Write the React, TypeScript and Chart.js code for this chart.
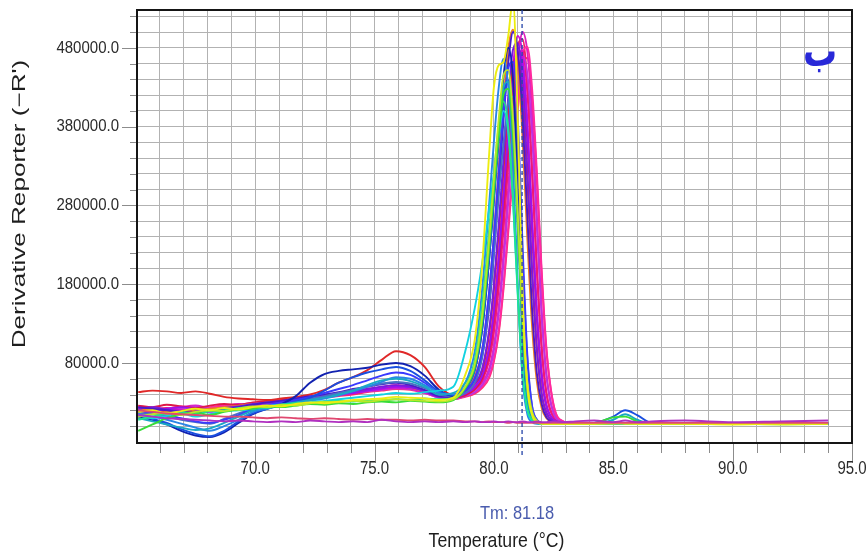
import { useEffect, useRef } from "react";
import { Chart, registerables } from "chart.js";

Chart.register(...registerables);

// Temperature (°C) sample points shared by all melt curves
const temps = [
  65.1, 65.7, 66.3, 66.9, 67.5, 68.1, 68.7, 69.3, 69.9, 70.5, 71.1, 71.7, 72.3, 72.9, 73.5, 74.1, 74.7, 75.3, 75.9, 76.5, 77.1, 77.7, 78.3,
  78.8, 79.2, 79.5, 79.8, 80.0, 80.2, 80.4, 80.6, 80.8, 81.0, 81.2, 81.4, 81.6, 81.8, 82.0, 82.2, 82.5, 82.9,
  83.4, 84.2, 85.0, 85.5, 86.0, 86.6, 88.0, 90.0, 92.0, 94.0,
];

// Derivative reporter values, in thousands
const ntc1 = [
  14, 12, 10, 9, 8, 7, 6, 7, 6, 5, 6, 5, 7, 6, 5, 6, 5, 8, 6, 5, 6, 5, 6,
  5, 6, 5, 5, 6, 5, 5, 6, 5, 5, 6, 5, 5, 6, 5, 5, 6, 5,
  6, 7, 5, 7, 5, 6, 7, 5, 6, 7,
];
const ntc2 = [
  20, 18, 16, 15, 14, 13, 12, 12, 11, 10, 11, 10, 9, 10, 9, 8, 9, 8, 8, 7, 8, 7, 7,
  6, 6, 5, 6, 5, 5, 5, 4, 5, 4, 4, 4, 4, 4, 4, 4, 4, 4,
  4, 4, 4, 4, 4, 4, 4, 4, 4, 4,
];
const s01 = [
  18, 20, 16, 19, 22, 20, 23, 21, 24, 26, 25, 28, 30, 29, 31, 33, 34, 35, 37, 36, 35, 33, 36,
  65, 110, 200, 345, 430, 458, 462, 495, 540, 390, 170, 50, 14, 5, 3, 3, 3, 3,
  3, 3, 4, 3, 3, 3, 3, 2, 3, 3,
];
const s02 = [
  12, 15, 17, 14, 18, 20, 19, 22, 25, 24, 27, 26, 29, 31, 30, 32, 31, 33, 34, 33, 32, 31, 34,
  50, 79, 138, 237, 314, 389, 445, 452, 390, 270, 140, 55, 18, 7, 4, 3, 3, 3,
  3, 3, 3, 4, 3, 3, 3, 3, 2, 3,
];
const s03 = [
  -6, 2, 10, 15, 17, 14, 18, 21, 22, 25, 24, 26, 28, 27, 29, 28, 30, 31, 30, 32, 31, 30, 33,
  48, 75, 130, 224, 297, 368, 421, 428, 370, 255, 130, 50, 16, 6, 4, 3, 3, 3,
  3, 4, 11, 12, 6, 3, 3, 3, 3, 3,
];
const s04 = [
  8, 12, 16, 18, 15, 19, 20, 23, 24, 23, 27, 29, 28, 30, 32, 31, 33, 32, 34, 33, 35, 34, 36,
  49, 84, 151, 249, 319, 380, 412, 380, 290, 170, 70, 22, 8, 4, 3, 3, 3, 3,
  3, 3, 3, 3, 3, 3, 3, 3, 3, 3,
];
const s05 = [
  14, 10, 13, 16, 12, 15, 19, 20, 22, 25, 27, 26, 30, 32, 34, 36, 38, 40, 42, 41, 43, 45, 50,
  95, 150, 205, 275, 320, 368, 400, 372, 285, 165, 65, 20, 7, 4, 3, 3, 3, 3,
  3, 3, 5, 4, 3, 3, 3, 3, 3, 3,
];
const s06 = [
  10, 6, 2, -2, -5, -3, 4, 12, 20, 24, 27, 30, 33, 36, 40, 45, 52, 58, 60, 57, 50, 40, 42,
  55, 80, 133, 230, 304, 376, 430, 437, 370, 250, 115, 38, 12, 5, 3, 3, 3, 3,
  3, 3, 8, 15, 8, 3, 3, 3, 3, 3,
];
const s07 = [
  16, 12, 8, 3, -2, -6, 0, 8, 18, 22, 26, 29, 32, 35, 39, 44, 50, 56, 62, 60, 52, 42, 40,
  55, 95, 171, 281, 361, 429, 466, 430, 330, 180, 60, 15, 5, 3, 3, 3, 3, 3,
  3, 3, 3, 3, 3, 3, 3, 3, 3, 3,
];
const s08 = [
  14, 9, 4, -4, -10, -13, -6, 6, 16, 22, 27, 31, 36, 45, 55, 62, 68, 72, 75, 70, 58, 44, 40,
  47, 71, 122, 212, 285, 359, 419, 439, 390, 280, 120, 35, 10, 4, 3, 3, 3, 3,
  3, 4, 12, 20, 14, 4, 3, 3, 3, 3,
];
const s09 = [
  12, 8, 2, -6, -12, -14, -8, 4, 15, 22, 28, 38, 55, 66, 70, 72, 74, 78, 80, 76, 64, 46, 38,
  49, 71, 120, 211, 290, 372, 443, 480, 440, 300, 110, 30, 8, 4, 3, 3, 3, 3,
  3, 3, 3, 3, 3, 3, 3, 3, 3, 3,
];
const s10 = [
  20, 17, 14, 10, 6, 4, 8, 14, 22, 27, 30, 33, 37, 42, 47, 52, 58, 64, 68, 65, 55, 42, 39,
  45, 61, 95, 171, 242, 321, 397, 454, 462, 390, 230, 90, 25, 8, 4, 3, 3, 3,
  3, 3, 3, 3, 3, 3, 3, 3, 3, 3,
];
const s11 = [
  18, 15, 12, 8, 5, 3, 9, 16, 21, 25, 28, 32, 35, 38, 42, 46, 50, 54, 56, 54, 48, 40, 38,
  42, 55, 86, 155, 219, 291, 359, 411, 418, 350, 210, 85, 25, 8, 4, 3, 3, 3,
  3, 3, 3, 3, 3, 3, 3, 3, 3, 3,
];
const s12 = [
  24, 22, 20, 18, 17, 19, 21, 24, 27, 30, 32, 35, 38, 40, 43, 47, 50, 53, 55, 52, 46, 38, 37,
  46, 59, 87, 151, 219, 302, 388, 461, 500, 475, 393, 267, 148, 67, 28, 11, 5, 3,
  3, 3, 3, 3, 3, 3, 3, 3, 3, 3,
];
const s13 = [
  22, 24, 21, 19, 22, 20, 23, 25, 28, 30, 31, 34, 36, 39, 41, 44, 47, 50, 52, 50, 44, 37, 36,
  43, 54, 72, 122, 180, 255, 338, 418, 478, 486, 432, 325, 200, 100, 42, 17, 6, 3,
  3, 3, 3, 3, 3, 3, 3, 3, 3, 3,
];
const s14 = [
  20, 18, 22, 24, 21, 18, 20, 23, 26, 29, 32, 33, 35, 37, 40, 42, 45, 48, 50, 49, 45, 38, 37,
  41, 49, 63, 98, 145, 211, 290, 372, 443, 480, 457, 377, 257, 142, 65, 26, 8, 4,
  3, 3, 3, 3, 3, 3, 3, 3, 3, 3,
];
const s15 = [
  20, 22, 19, 17, 20, 22, 24, 26, 28, 30, 31, 33, 35, 38, 40, 43, 46, 49, 51, 49, 44, 38, 37,
  47, 63, 95, 169, 242, 327, 411, 479, 503, 462, 366, 238, 126, 56, 23, 10, 4, 3,
  3, 3, 3, 3, 3, 3, 3, 3, 3, 3,
];
const s16 = [
  43, 45, 44, 42, 44, 41, 37, 35, 34, 33, 35, 37, 40, 46, 55, 62, 71, 84, 95, 90, 75, 50, 40,
  45, 54, 69, 117, 173, 245, 324, 401, 459, 467, 415, 312, 192, 96, 40, 16, 6, 3,
  3, 3, 3, 3, 3, 3, 3, 3, 3, 3,
];
const s17 = [
  26, 24, 27, 25, 23, 26, 28, 27, 30, 32, 33, 35, 37, 39, 42, 44, 47, 49, 51, 50, 45, 38, 36,
  39, 47, 60, 94, 139, 202, 278, 357, 425, 461, 438, 362, 246, 136, 62, 25, 8, 4,
  3, 3, 3, 3, 3, 3, 3, 3, 3, 3,
];
const s18 = [
  16, 19, 22, 20, 18, 21, 24, 23, 26, 29, 31, 32, 34, 37, 40, 42, 45, 47, 49, 48, 43, 37, 35,
  42, 51, 65, 101, 149, 217, 299, 384, 457, 495, 471, 389, 265, 146, 67, 27, 8, 4,
  3, 3, 3, 3, 3, 3, 3, 3, 3, 3,
];
const s19 = [
  21, 23, 20, 22, 25, 22, 24, 27, 29, 28, 31, 33, 35, 37, 39, 42, 44, 46, 48, 47, 42, 36, 34,
  38, 43, 52, 69, 96, 142, 206, 284, 365, 434, 470, 447, 370, 252, 139, 63, 16, 5,
  3, 3, 3, 3, 3, 3, 3, 3, 3, 3,
];
const s20 = [
  19, 21, 18, 20, 23, 21, 22, 25, 27, 30, 29, 32, 34, 37, 39, 41, 44, 47, 50, 49, 44, 37, 35,
  40, 46, 57, 83, 120, 176, 250, 331, 410, 468, 476, 423, 319, 196, 98, 41, 11, 4,
  3, 3, 3, 3, 3, 3, 3, 3, 3, 3,
];
const s21 = [
  23, 20, 22, 25, 22, 24, 26, 25, 28, 31, 30, 33, 36, 38, 40, 43, 45, 48, 50, 49, 44, 37, 35,
  39, 43, 50, 63, 84, 121, 178, 252, 335, 414, 473, 481, 428, 322, 198, 99, 27, 6,
  3, 3, 3, 3, 3, 3, 3, 3, 3, 3,
];
const s22 = [
  17, 20, 23, 21, 19, 22, 24, 26, 25, 28, 30, 33, 35, 38, 40, 43, 46, 49, 52, 50, 45, 38, 36,
  41, 47, 59, 86, 123, 182, 258, 341, 422, 483, 491, 436, 328, 202, 101, 42, 11, 4,
  3, 3, 3, 3, 3, 3, 3, 3, 3, 3,
];
const s23 = [
  25, 23, 21, 24, 26, 23, 25, 28, 27, 30, 32, 34, 36, 38, 41, 43, 46, 48, 51, 49, 45, 38, 35,
  41, 46, 55, 73, 102, 151, 219, 302, 388, 461, 500, 475, 393, 267, 148, 67, 17, 5,
  3, 3, 3, 3, 3, 3, 3, 3, 3, 3,
];
const s24 = [
  15, 18, 20, 17, 20, 23, 21, 24, 26, 29, 31, 30, 33, 36, 38, 40, 43, 45, 47, 46, 42, 36, 34,
  37, 41, 48, 61, 82, 117, 173, 245, 324, 401, 459, 467, 415, 312, 192, 96, 26, 6,
  3, 3, 3, 3, 3, 3, 3, 3, 3, 3,
];

const seriesValues = [ntc1, ntc2, s01, s02, s03, s04, s05, s06, s07, s08, s09, s10, s11, s12, s13, s14, s15, s16, s17, s18, s19, s20, s21, s22, s23, s24];
const seriesColors = [
  "#b030c0", "#e04870",
  "#eded10", "#b8e828", "#38dc38", "#20e48c", "#12d2e0", "#1aa8c4", "#2a86e6", "#1a4fe0", "#1222b0", "#3a3aff",
  "#4a70c4", "#4a1ac8", "#7a1ae0", "#9a12f0", "#f08020", "#e02828", "#e01848", "#d010d0", "#c030e0", "#f01878",
  "#ff2aa0", "#f02060", "#e020c0", "#ff3070",
];

// Axes
const xMin = 65.05;
const xMax = 95.0;
const xGridValues = [66, 67, 68, 69, 70, 71, 72, 73, 74, 75, 76, 77, 78, 79, 80, 81, 82, 83, 84, 85, 86, 87, 88, 89, 90, 91, 92, 93, 94, 95];
const xTickLabels = [70, 75, 80, 85, 90, 95];
const yMin = -21.5;
const yMax = 528;
const yGridValues = [0, 20, 40, 60, 80, 100, 120, 140, 160, 180, 200, 220, 240, 260, 280, 300, 320, 340, 360, 380, 400, 420, 440, 460, 480, 500, 520];
const yTickLabels = [80, 180, 280, 380, 480];
const tmValue = 81.18;

const TEXT_FONT = '"Liberation Sans", Arial, sans-serif';

function stretchedText(ctx: CanvasRenderingContext2D, text: string, x: number, y: number, sx: number, sy: number) {
  ctx.save();
  ctx.translate(x, y);
  ctx.scale(sx, sy);
  ctx.fillText(text, 0, 0);
  ctx.restore();
}

const decorPlugin = {
  id: "decor",
  afterDraw(chart: any) {
    const { ctx, chartArea: a, scales } = chart;
    const x = scales.x;
    const y = scales.y;
    ctx.save();
    // tick marks
    ctx.strokeStyle = "#8c8c8c";
    ctx.lineWidth = 1;
    x.ticks.forEach((t: any) => {
      const px = Math.round(x.getPixelForValue(t.value)) + 0.5;
      const major = xTickLabels.includes(t.value);
      ctx.beginPath();
      ctx.moveTo(px, a.bottom);
      ctx.lineTo(px, a.bottom + (major ? 20 : 10));
      ctx.stroke();
    });
    y.ticks.forEach((t: any) => {
      const py = Math.round(y.getPixelForValue(t.value)) + 0.5;
      const major = yTickLabels.includes(t.value);
      ctx.beginPath();
      ctx.moveTo(a.left, py);
      ctx.lineTo(a.left - (major ? 15 : 7), py);
      ctx.stroke();
    });
    // frame
    ctx.strokeStyle = "#151515";
    ctx.lineWidth = 2;
    ctx.strokeRect(a.left, a.top, a.right - a.left, a.bottom - a.top);
    // Tm dashed line
    const tx = x.getPixelForValue(tmValue);
    ctx.strokeStyle = "#2444a8";
    ctx.lineWidth = 1.3;
    ctx.setLineDash([4, 3]);
    ctx.beginPath();
    ctx.moveTo(tx, a.top);
    ctx.lineTo(tx, a.bottom + 14);
    ctx.stroke();
    ctx.setLineDash([]);
    // tick labels
    ctx.fillStyle = "#2a2a2a";
    ctx.font = `15px ${TEXT_FONT}`;
    ctx.textBaseline = "middle";
    ctx.textAlign = "center";
    xTickLabels.forEach((v) => {
      stretchedText(ctx, v.toFixed(1), x.getPixelForValue(v), a.bottom + 26, 1, 1.25);
    });
    ctx.textAlign = "right";
    yTickLabels.forEach((v) => {
      stretchedText(ctx, (v * 1000).toFixed(1), a.left - 18, y.getPixelForValue(v), 1, 1.15);
    });
    // Tm label
    ctx.fillStyle = "#4a5cae";
    ctx.font = `16px ${TEXT_FONT}`;
    ctx.textAlign = "center";
    stretchedText(ctx, `Tm: ${tmValue.toFixed(2)}`, tx - 5, 514, 1.03, 1.15);
    // x title
    ctx.fillStyle = "#1e1e1e";
    ctx.font = `17px ${TEXT_FONT}`;
    stretchedText(ctx, "Temperature (°C)", (a.left + a.right) / 2 + 2, 541, 1.04, 1.2);
    // y title
    ctx.save();
    ctx.translate(20, 204);
    ctx.rotate(-Math.PI / 2);
    ctx.scale(1.45, 1);
    ctx.font = `18px ${TEXT_FONT}`;
    ctx.fillText("Derivative Reporter (−R')", 0, 0);
    ctx.restore();
    // panel letter
    ctx.fillStyle = "#2828d8";
    ctx.font = `bold 34px "DejaVu Sans", sans-serif`;
    ctx.textAlign = "center";
    ctx.textBaseline = "alphabetic";
    stretchedText(ctx, "ب", 820, 66, 1, 1.3);
    ctx.restore();
  },
};

export default function App() {
  const ref = useRef<HTMLCanvasElement | null>(null);
  useEffect(() => {
    if (!ref.current) return;
    const datasets = seriesValues.map((vals, i) => ({
      label: `S${i + 1}`,
      data: vals.map((v, j) => ({ x: temps[j], y: v })),
      borderColor: seriesColors[i],
      backgroundColor: seriesColors[i],
      borderWidth: 1.9,
      pointRadius: 0,
      fill: false,
      cubicInterpolationMode: "monotone" as const,
    }));
    const chart = new Chart(ref.current, {
      type: "line",
      data: { datasets },
      options: {
        animation: false,
        responsive: false,
        devicePixelRatio: 1,
        layout: { padding: { left: 0, top: 10, right: 15, bottom: 0 } },
        plugins: { legend: { display: false }, tooltip: { enabled: false }, title: { display: false } },
        scales: {
          x: {
            type: "linear",
            min: xMin,
            max: xMax,
            afterBuildTicks: (s: any) => {
              s.ticks = xGridValues.map((v) => ({ value: v }));
            },
            afterFit: (s: any) => {
              s.height = 112;
            },
            grid: { color: "#b2b2b2", lineWidth: 1, drawTicks: false },
            border: { display: false },
            ticks: { display: false },
          },
          y: {
            type: "linear",
            min: yMin,
            max: yMax,
            afterBuildTicks: (s: any) => {
              s.ticks = yGridValues.map((v) => ({ value: v }));
            },
            afterFit: (s: any) => {
              s.width = 137;
            },
            grid: { color: "#b2b2b2", lineWidth: 1, drawTicks: false },
            border: { display: false },
            ticks: { display: false },
          },
        },
      },
      plugins: [decorPlugin],
    });
    return () => chart.destroy();
  }, []);
  return (
    <div style={{ position: "absolute", left: 0, top: 0, width: 867, height: 555, background: "#fff" }}>
      <canvas ref={ref} width={867} height={555} style={{ display: "block", width: 867, height: 555 }} />
    </div>
  );
}
